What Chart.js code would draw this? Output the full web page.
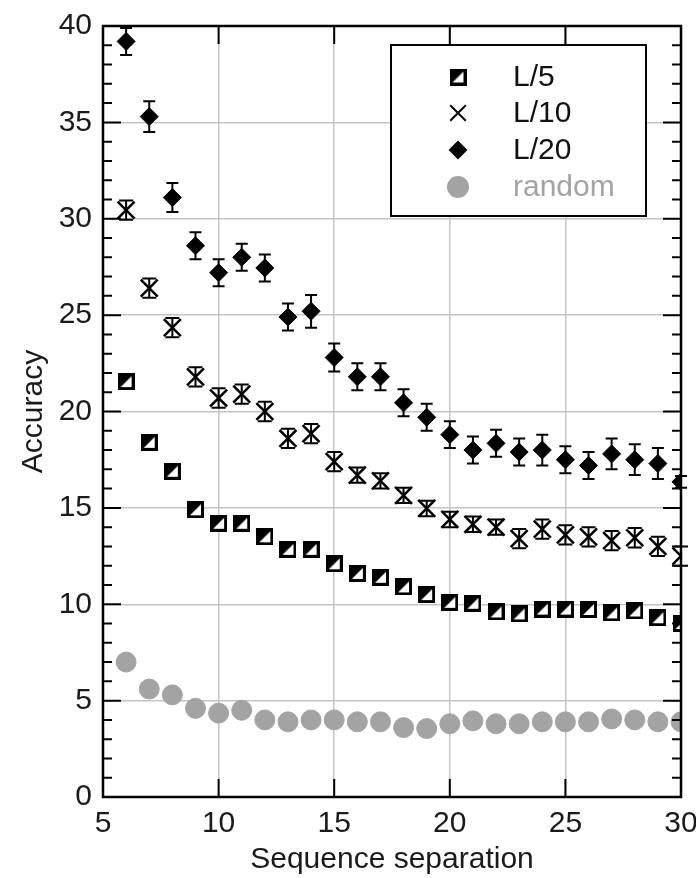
<!DOCTYPE html>
<html>
<head>
<meta charset="utf-8">
<script src="https://cdn.jsdelivr.net/npm/chart.js@4.4.1/dist/chart.umd.min.js"></script>
<style>
  html, body { margin: 0; padding: 0; background: #fff; }
  #wrap { width: 696px; height: 878px; }
</style>
</head>
<body>
<div id="wrap"><canvas id="myChart" width="696" height="878"></canvas></div>
<script>
// sequence separation (x)
const separation = [6, 7, 8, 9, 10, 11, 12, 13, 14, 15, 16, 17, 18, 19, 20, 21, 22, 23, 24, 25, 26, 27, 28, 29, 30];

// accuracy per contact set
const accL5 = [21.55, 18.4, 16.9, 14.9, 14.2, 14.2, 13.5, 12.85, 12.85, 12.1, 11.6, 11.4, 10.9, 10.5, 10.1, 10.05, 9.6, 9.5, 9.75, 9.75, 9.73, 9.55, 9.65, 9.3, 9.0];
const accL10 = [30.45, 26.4, 24.35, 21.8, 20.7, 20.9, 20.0, 18.6, 18.85, 17.4, 16.7, 16.4, 15.65, 14.97, 14.4, 14.15, 14.0, 13.4, 13.9, 13.6, 13.5, 13.3, 13.45, 13.0, 12.5];
const accL20 = [39.2, 35.3, 31.1, 28.6, 27.2, 28.0, 27.45, 24.9, 25.2, 22.8, 21.8, 21.8, 20.45, 19.7, 18.8, 18.0, 18.35, 17.9, 18.0, 17.5, 17.2, 17.8, 17.5, 17.3, 16.35];
const accRandom = [7.0, 5.6, 5.3, 4.6, 4.35, 4.5, 4.0, 3.9, 4.0, 4.0, 3.9, 3.9, 3.6, 3.55, 3.8, 3.95, 3.8, 3.8, 3.9, 3.9, 3.9, 4.05, 4.0, 3.9, 3.9];

// error bar half widths
const errL10 = [0.5, 0.5, 0.5, 0.5, 0.5, 0.5, 0.5, 0.5, 0.5, 0.5, 0.4, 0.4, 0.4, 0.4, 0.4, 0.4, 0.4, 0.5, 0.5, 0.5, 0.5, 0.5, 0.5, 0.5, 0.5];
const errL20 = [0.7, 0.8, 0.75, 0.7, 0.7, 0.7, 0.7, 0.7, 0.85, 0.73, 0.7, 0.7, 0.7, 0.7, 0.7, 0.7, 0.7, 0.7, 0.8, 0.7, 0.7, 0.8, 0.8, 0.8, 0.3];

const seriesLabels = ['L/5', 'L/10', 'L/20', 'random'];
const xTicks = [5, 10, 15, 20, 25, 30];
const yTicks = [0, 5, 10, 15, 20, 25, 30, 35, 40];

const FONT = "'Liberation Sans', Arial, Helvetica, sans-serif";
const GREY = '#a3a3a3';

function halfSquare(size) {
    const c = document.createElement('canvas');
    c.width = size;
    c.height = size;
    const g = c.getContext('2d');
    g.fillStyle = '#fff';
    g.fillRect(0, 0, size, size);
    g.fillStyle = '#000';
    g.beginPath();
    g.moveTo(0, 0);
    g.lineTo(size, 0);
    g.lineTo(0, size);
    g.closePath();
    g.fill();
    g.lineWidth = 3;
    g.strokeStyle = '#000';
    g.strokeRect(1.5, 1.5, size - 3, size - 3);
    return c;
}
const squareMark = halfSquare(17);

function pts(ys) {
    return separation.map((x, i) => ({ x: x, y: ys[i] }));
}

const markers = [
    { pointStyle: squareMark, radius: 9, color: '#000' },
    { pointStyle: 'crossRot', radius: 12, color: '#000' },
    { pointStyle: 'rectRot', radius: 9, color: '#000' },
    { pointStyle: 'circle', radius: 10, color: GREY }
];

const errorBars = {
    id: 'errorBars',
    beforeDatasetsDraw(chart) {
        const ctx = chart.ctx;
        const xs = chart.scales.x, ys = chart.scales.y;
        ctx.save();
        ctx.strokeStyle = '#000';
        ctx.lineWidth = 2;
        [[accL10, errL10, 7], [accL20, errL20, 6]].forEach(([vals, errs, cap]) => {
            separation.forEach((sx, i) => {
                const px = xs.getPixelForValue(sx);
                const top = ys.getPixelForValue(vals[i] + errs[i]);
                const bot = ys.getPixelForValue(vals[i] - errs[i]);
                ctx.beginPath();
                ctx.moveTo(px, top); ctx.lineTo(px, bot);
                ctx.moveTo(px - cap, top); ctx.lineTo(px + cap, top);
                ctx.moveTo(px - cap, bot); ctx.lineTo(px + cap, bot);
                ctx.stroke();
            });
        });
        ctx.restore();
    },
    afterDraw(chart) {
        const ctx = chart.ctx;
        const a = chart.chartArea;
        const xs = chart.scales.x, ys = chart.scales.y;
        ctx.save();
        ctx.strokeStyle = '#000';
        ctx.lineWidth = 2;
        // minor / major ticks on left and right
        ctx.beginPath();
        for (let v = 1; v < 40; v++) {
            const py = ys.getPixelForValue(v);
            const len = v % 5 === 0 ? 18 : 9;
            ctx.moveTo(a.left, py); ctx.lineTo(a.left + len, py);
            ctx.moveTo(a.right, py); ctx.lineTo(a.right - len, py);
        }
        xTicks.slice(1, -1).forEach(v => {
            const px = xs.getPixelForValue(v);
            ctx.moveTo(px, a.bottom); ctx.lineTo(px, a.bottom - 18);
            ctx.moveTo(px, a.top); ctx.lineTo(px, a.top + 18);
        });
        ctx.stroke();
        // frame
        ctx.lineWidth = 2.5;
        ctx.strokeRect(a.left, a.top, a.right - a.left, a.bottom - a.top);

        // legend box
        const bx = 391, by = 45, bw = 255, bh = 171;
        ctx.fillStyle = '#fff';
        ctx.fillRect(bx, by, bw, bh);
        ctx.lineWidth = 2;
        ctx.strokeRect(bx, by, bw, bh);
        const rows = [77, 113, 150, 187];
        ctx.font = '30px ' + FONT;
        ctx.textBaseline = 'middle';
        ctx.textAlign = 'left';
        seriesLabels.forEach((lab, i) => {
            const m = markers[i];
            ctx.fillStyle = m.color;
            ctx.strokeStyle = m.color;
            ctx.lineWidth = 2;
            Chart.helpers.drawPoint(ctx, {
                pointStyle: m.pointStyle,
                radius: i === 3 ? 10 : (i === 2 ? 8 : m.radius - 1),
                borderWidth: 2,
                rotation: 0
            }, 458, rows[i]);
            ctx.fillStyle = i === 3 ? GREY : '#111';
            ctx.fillText(lab, 513, rows[i] + 1);
        });
        ctx.restore();
    }
};

const ctx = document.getElementById('myChart');

new Chart(ctx, {
    type: 'scatter',
    data: {
        datasets: [accL5, accL10, accL20, accRandom].map((vals, i) => ({
            label: seriesLabels[i],
            data: pts(vals),
            pointStyle: markers[i].pointStyle,
            pointRadius: markers[i].radius,
            pointBackgroundColor: markers[i].color,
            pointBorderColor: markers[i].color,
            pointBorderWidth: i === 1 ? 2.5 : 1,
            showLine: false
        })).reverse()
    },
    options: {
        responsive: false,
        animation: false,
        events: [],
        layout: { padding: { top: 26, right: 15, left: 0, bottom: 0 } },
        plugins: {
            legend: { display: false },
            tooltip: { enabled: false }
        },
        scales: {
            x: {
                type: 'linear',
                min: 5,
                max: 30,
                afterBuildTicks: s => { s.ticks = xTicks.map(v => ({ value: v })); },
                afterFit: s => { s.height = 81; s.paddingLeft = 0; s.paddingRight = 0; },
                border: { display: false },
                grid: { color: '#c4c4c4', lineWidth: 1.5, drawTicks: false },
                ticks: {
                    padding: 9,
                    color: '#1a1a1a',
                    font: { family: FONT, size: 30 },
                    maxRotation: 0
                },
                title: {
                    display: true,
                    text: 'Sequence separation',
                    color: '#1a1a1a',
                    font: { family: FONT, size: 30 },
                    padding: { top: 0, bottom: 0 }
                }
            },
            y: {
                type: 'linear',
                min: 0,
                max: 40,
                afterBuildTicks: s => { s.ticks = yTicks.map(v => ({ value: v })); },
                afterFit: s => { s.width = 103; s.paddingTop = 0; s.paddingBottom = 0; },
                border: { display: false },
                grid: { color: '#c4c4c4', lineWidth: 1.5, drawTicks: false },
                ticks: {
                    padding: 11,
                    color: '#1a1a1a',
                    font: { family: FONT, size: 30 }
                },
                title: {
                    display: true,
                    text: 'Accuracy',
                    color: '#1a1a1a',
                    font: { family: FONT, size: 30 },
                    padding: { top: 16, bottom: 0 }
                }
            }
        }
    },
    plugins: [errorBars]
});
</script>
</body>
</html>
